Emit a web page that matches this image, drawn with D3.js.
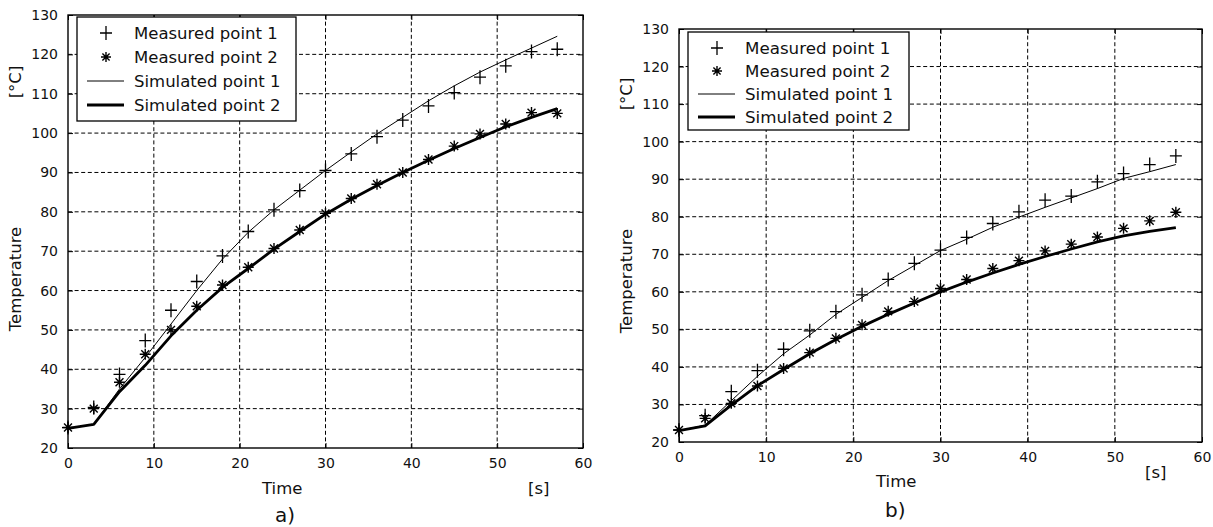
<!DOCTYPE html>
<html>
<head>
<meta charset="utf-8">
<script src="https://cdn.jsdelivr.net/npm/d3@7"></script>
<style>
  body { margin: 0; background: #fff; }
  svg { display: block; }
  text { font-family: "DejaVu Sans", sans-serif; fill: #111; }
</style>
</head>
<body>
<svg id="chart" width="1213" height="527"></svg>
<script>
// time samples [s]
const times = [0, 3, 6, 9, 12, 15, 18, 21, 24, 27, 30, 33, 36, 39, 42, 45, 48, 51, 54, 57];

// panel a)
const aMeas1 = [25.2, 30.3, 38.7, 47.3, 55, 62.3, 68.8, 75, 80.5, 85.4, 90.5, 94.7, 99.1, 103.3, 106.9, 110.3, 114.2, 117.1, 120.7, 121.3];
const aMeas2 = [25.2, 30, 36.7, 43.8, 50, 56, 61.4, 65.9, 70.7, 75.4, 79.6, 83.4, 87, 90, 93.3, 96.7, 99.8, 102.3, 105.2, 105];
const aSim1  = [25, 26, 35, 43, 51.5, 60, 68, 74.8, 80.5, 85.5, 90.5, 95.2, 99.8, 104, 108.2, 112, 115.5, 118.6, 121.6, 124.6];
const aSim2  = [25, 26, 34.3, 41, 48.5, 55, 60.8, 65.6, 70.5, 75, 79.4, 83.2, 86.7, 90, 93.1, 96.1, 98.9, 101.6, 104, 106.2];

// panel b)
const bMeas1 = [23.2, 27, 33.4, 39, 44.7, 49.6, 54.7, 59.2, 63.3, 67.6, 71.1, 74.5, 78.2, 81.3, 84.4, 85.5, 89.3, 91.5, 93.9, 96.2];
const bMeas2 = [23.2, 26.3, 30.3, 34.9, 39.6, 43.8, 47.6, 51.2, 54.8, 57.4, 60.9, 63.3, 66.2, 68.3, 70.9, 72.7, 74.6, 76.9, 78.9, 81.2];
const bSim1  = [23, 24.5, 31, 37.5, 43.5, 48.5, 54, 58.5, 63, 67, 71, 74, 77.2, 79.9, 82.5, 85, 87.5, 90.2, 92, 93.9];
const bSim2  = [23, 24.3, 29.8, 35, 39.3, 43.5, 47.3, 50.8, 54, 57, 60, 62.6, 65, 67.3, 69.4, 71.4, 73.3, 74.9, 76.1, 77.1];

const xTicks = [0, 10, 20, 30, 40, 50, 60];
const yTicks = [20, 30, 40, 50, 60, 70, 80, 90, 100, 110, 120, 130];
const legendLabels = ["Measured point 1", "Measured point 2", "Simulated point 1", "Simulated point 2"];

const svg = d3.select("#chart");

const plusPath = (s) => `M${-s},0H${s}M0,${-s - 1}V${s + 1}`;
const starPath = (s) => {
  let d = s * 0.72;
  return `M${-s},0H${s}M0,${-s}V${s}M${-d},${-d}L${d},${d}M${-d},${d}L${d},${-d}`;
};

function drawPanel(p) {
  let x = d3.scaleLinear().domain([0, 60]).range([p.left, p.right]);
  let y = d3.scaleLinear().domain([20, 130]).range([p.bottom, p.top]);
  let g = svg.append("g");

  // dashed grid
  g.selectAll("line.vgrid").data(xTicks.slice(1, -1)).enter().append("line")
    .attr("x1", d => x(d)).attr("x2", d => x(d))
    .attr("y1", p.top).attr("y2", p.bottom)
    .attr("stroke", "#000").attr("stroke-width", 1).attr("stroke-dasharray", "4,2.6");
  g.selectAll("line.hgrid").data(yTicks.slice(1, -1)).enter().append("line")
    .attr("y1", d => y(d)).attr("y2", d => y(d))
    .attr("x1", p.left).attr("x2", p.right)
    .attr("stroke", "#000").attr("stroke-width", 1).attr("stroke-dasharray", "4,2.6");

  // axes with inward ticks
  g.append("g").attr("transform", `translate(0,${p.bottom})`)
    .call(d3.axisBottom(x).tickValues(xTicks).tickSizeInner(-5).tickSizeOuter(0).tickPadding(10))
    .call(a => a.select(".domain").remove())
    .call(a => a.selectAll("text").attr("font-size", 14).attr("font-family", "DejaVu Sans").attr("fill", "#111"));
  g.append("g").attr("transform", `translate(${p.left},0)`)
    .call(d3.axisLeft(y).tickValues(yTicks).tickSizeInner(-5).tickSizeOuter(0).tickPadding(10))
    .call(a => a.select(".domain").remove())
    .call(a => a.selectAll("text").attr("font-size", 14).attr("font-family", "DejaVu Sans").attr("fill", "#111"));
  g.append("g").attr("transform", `translate(0,${p.top})`)
    .call(d3.axisTop(x).tickValues(xTicks).tickSizeInner(-5).tickSizeOuter(0).tickFormat(""))
    .call(a => a.select(".domain").remove());
  g.append("g").attr("transform", `translate(${p.right},0)`)
    .call(d3.axisRight(y).tickValues(yTicks).tickSizeInner(-5).tickSizeOuter(0).tickFormat(""))
    .call(a => a.select(".domain").remove());

  // frame
  g.append("rect")
    .attr("x", p.left).attr("y", p.top)
    .attr("width", p.right - p.left).attr("height", p.bottom - p.top)
    .attr("fill", "none").attr("stroke", "#000").attr("stroke-width", 1.4);

  // simulated lines
  let line = d3.line().x((d, i) => x(times[i])).y(d => y(d));
  g.append("path").datum(p.sim1).attr("d", line)
    .attr("fill", "none").attr("stroke", "#000").attr("stroke-width", 1);
  g.append("path").datum(p.sim2).attr("d", line)
    .attr("fill", "none").attr("stroke", "#000").attr("stroke-width", 2.8).attr("stroke-linejoin", "round");

  // measured markers
  g.selectAll("path.m1").data(p.meas1).enter().append("path")
    .attr("transform", (d, i) => `translate(${x(times[i])},${y(d)})`)
    .attr("d", plusPath(6)).attr("stroke", "#000").attr("stroke-width", 1.3).attr("fill", "none");
  g.selectAll("path.m2").data(p.meas2).enter().append("path")
    .attr("transform", (d, i) => `translate(${x(times[i])},${y(d)})`)
    .attr("d", starPath(5.5)).attr("stroke", "#000").attr("stroke-width", 1.4).attr("fill", "none");

  // axis labels
  g.append("text")
    .attr("transform", `translate(${p.ylabX},${p.ylabY}) rotate(-90)`)
    .attr("text-anchor", "middle").attr("font-size", 16.5)
    .text("Temperature");
  g.append("text")
    .attr("transform", `translate(${p.ylabX},${p.unitY}) rotate(-90)`)
    .attr("text-anchor", "middle").attr("font-size", 16.5)
    .text("[°C]");
  g.append("text")
    .attr("x", p.timeX).attr("y", p.timeY)
    .attr("font-size", 16.5).text("Time");
  g.append("text")
    .attr("x", p.sX).attr("y", p.sY)
    .attr("font-size", 16.5).text("[s]");
  g.append("text")
    .attr("x", p.capX).attr("y", p.capY)
    .attr("font-family", "Liberation Serif, serif").attr("font-size", 20)
    .text(p.caption);

  // legend
  let lg = g.append("g").attr("transform", `translate(${p.legX},${p.legY})`);
  lg.append("rect")
    .attr("width", p.legW).attr("height", p.legH)
    .attr("fill", "#fff").attr("stroke", "#000").attr("stroke-width", 1.3);
  legendLabels.forEach((lab, i) => {
    let cy = p.legPad + i * p.legStep;
    if (i == 0) lg.append("path").attr("transform", `translate(29,${cy})`).attr("d", plusPath(6))
      .attr("stroke", "#000").attr("stroke-width", 1.3).attr("fill", "none");
    if (i == 1) lg.append("path").attr("transform", `translate(29,${cy})`).attr("d", starPath(5))
      .attr("stroke", "#000").attr("stroke-width", 1.4).attr("fill", "none");
    if (i >= 2) lg.append("line").attr("x1", 10).attr("x2", 47).attr("y1", cy).attr("y2", cy)
      .attr("stroke", "#000").attr("stroke-width", i == 2 ? 1 : 2.8);
    lg.append("text")
      .attr("x", 57).attr("y", cy).attr("dy", "0.36em")
      .attr("font-size", p.legFont).text(lab);
  });
}

drawPanel({
  left: 68, right: 583, top: 15, bottom: 448,
  meas1: aMeas1, meas2: aMeas2, sim1: aSim1, sim2: aSim2,
  ylabX: 21, ylabY: 279, unitY: 82,
  timeX: 262, timeY: 494, sX: 528, sY: 494,
  capX: 275, capY: 522, caption: "a)",
  legX: 77, legY: 17, legW: 219, legH: 104, legPad: 16, legStep: 24, legFont: 16.5
});

drawPanel({
  left: 679, right: 1202, top: 29, bottom: 442,
  meas1: bMeas1, meas2: bMeas2, sim1: bSim1, sim2: bSim2,
  ylabX: 632, ylabY: 281, unitY: 94,
  timeX: 876, timeY: 487, sX: 1145, sY: 478,
  capX: 885, capY: 517, caption: "b)",
  legX: 688, legY: 32, legW: 221, legH: 98, legPad: 16, legStep: 23, legFont: 16.7
});
</script>
</body>
</html>
